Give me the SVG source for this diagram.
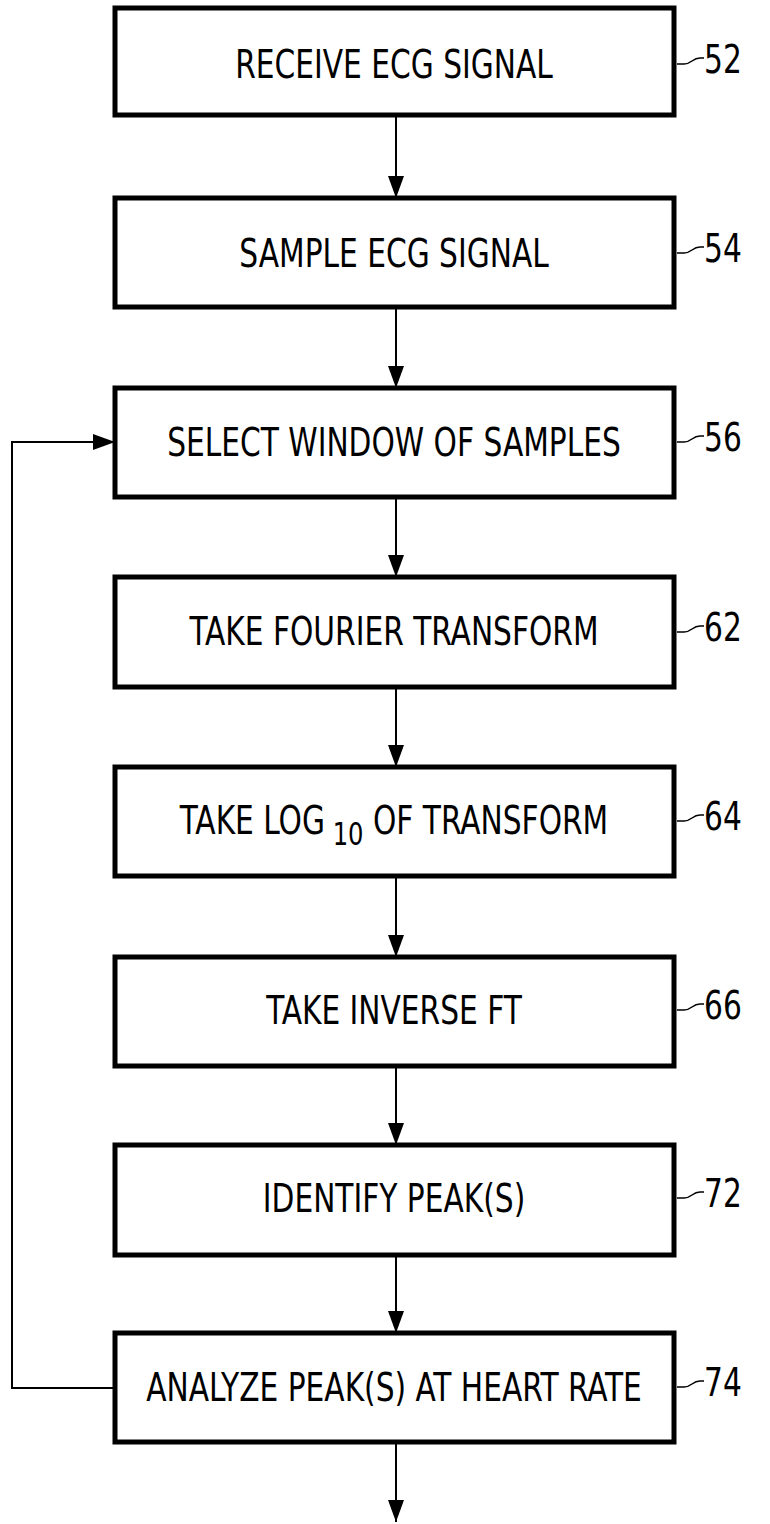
<svg xmlns="http://www.w3.org/2000/svg" width="770" height="1524" viewBox="0 0 770 1524">
<defs>
<marker id="ah" markerUnits="userSpaceOnUse" markerWidth="22" markerHeight="16" refX="22" refY="8" viewBox="0 0 22 16" orient="auto">
<path d="M0,0 L22,8 L0,16 Z" fill="#000"/>
</marker>
<style>
.box{fill:#fff;stroke:#000;stroke-width:5}
.t{font-family:"DejaVu Sans Condensed","DejaVu Sans",sans-serif;font-size:33px;text-anchor:middle;fill:#000}
.n{font-family:"DejaVu Sans Condensed","DejaVu Sans",sans-serif;font-size:33px;fill:#000}
.c{fill:none;stroke:#000;stroke-width:2}
.ld{fill:none;stroke:#000;stroke-width:1.5}
</style>
</defs>
<rect width="770" height="1524" fill="#fff"/>
<g id="connectors">
<line class="c" x1="396" y1="115" x2="396" y2="198" marker-end="url(#ah)"/>
<line class="c" x1="396" y1="307" x2="396" y2="388" marker-end="url(#ah)"/>
<line class="c" x1="396" y1="497" x2="396" y2="577" marker-end="url(#ah)"/>
<line class="c" x1="396" y1="687" x2="396" y2="767" marker-end="url(#ah)"/>
<line class="c" x1="396" y1="876" x2="396" y2="957" marker-end="url(#ah)"/>
<line class="c" x1="396" y1="1066" x2="396" y2="1145" marker-end="url(#ah)"/>
<line class="c" x1="396" y1="1255" x2="396" y2="1333" marker-end="url(#ah)"/>
<line class="c" x1="396" y1="1442" x2="396" y2="1522" marker-end="url(#ah)"/>
<polyline class="c" points="115,1388 12,1388 12,442 115,442" marker-end="url(#ah)"/>
</g>
<g id="n52"><rect class="box" x="115" y="8" width="559" height="107"/><text class="t" transform="translate(394,78) scale(1,1.18)">RECEIVE ECG SIGNAL</text></g>
<g id="n54"><rect class="box" x="115" y="198" width="559" height="109"/><text class="t" transform="translate(394,267) scale(1,1.18)">SAMPLE ECG SIGNAL</text></g>
<g id="n56"><rect class="box" x="115" y="388" width="559" height="109"/><text class="t" transform="translate(394,456) scale(1,1.18)">SELECT WINDOW OF SAMPLES</text></g>
<g id="n62"><rect class="box" x="115" y="577" width="559" height="110"/><text class="t" transform="translate(394,645) scale(1,1.18)">TAKE FOURIER TRANSFORM</text></g>
<g id="n64"><rect class="box" x="115" y="767" width="559" height="109"/><text class="t" transform="translate(394,834) scale(1,1.18)">TAKE LOG<tspan font-size="27" dy="9"> 10</tspan><tspan dy="-9"> OF TRANSFORM</tspan></text></g>
<g id="n66"><rect class="box" x="115" y="957" width="559" height="109"/><text class="t" transform="translate(394,1024) scale(1,1.18)">TAKE INVERSE FT</text></g>
<g id="n72"><rect class="box" x="115" y="1145" width="559" height="110"/><text class="t" transform="translate(394,1212) scale(1,1.18)">IDENTIFY PEAK(S)</text></g>
<g id="n74"><rect class="box" x="115" y="1333" width="559" height="109"/><text class="t" transform="translate(394,1401) scale(1,1.18)">ANALYZE PEAK(S) AT HEART RATE</text></g>
<g id="labels">
<path class="ld" d="M677,64 L684,64 C692,64 692,58 700,58 L704,58"/><text class="n" transform="translate(704,73) scale(1,1.18)">52</text>
<path class="ld" d="M677,253 L684,253 C692,253 692,247 700,247 L704,247"/><text class="n" transform="translate(704,262) scale(1,1.18)">54</text>
<path class="ld" d="M677,442 L684,442 C692,442 692,436 700,436 L704,436"/><text class="n" transform="translate(704,451) scale(1,1.18)">56</text>
<path class="ld" d="M677,632 L684,632 C692,632 692,626 700,626 L704,626"/><text class="n" transform="translate(704,641) scale(1,1.18)">62</text>
<path class="ld" d="M677,821 L684,821 C692,821 692,815 700,815 L704,815"/><text class="n" transform="translate(704,830) scale(1,1.18)">64</text>
<path class="ld" d="M677,1010 L684,1010 C692,1010 692,1004 700,1004 L704,1004"/><text class="n" transform="translate(704,1019) scale(1,1.18)">66</text>
<path class="ld" d="M677,1198 L684,1198 C692,1198 692,1192 700,1192 L704,1192"/><text class="n" transform="translate(704,1207) scale(1,1.18)">72</text>
<path class="ld" d="M677,1387 L684,1387 C692,1387 692,1381 700,1381 L704,1381"/><text class="n" transform="translate(704,1396) scale(1,1.18)">74</text>
</g>
</svg>
